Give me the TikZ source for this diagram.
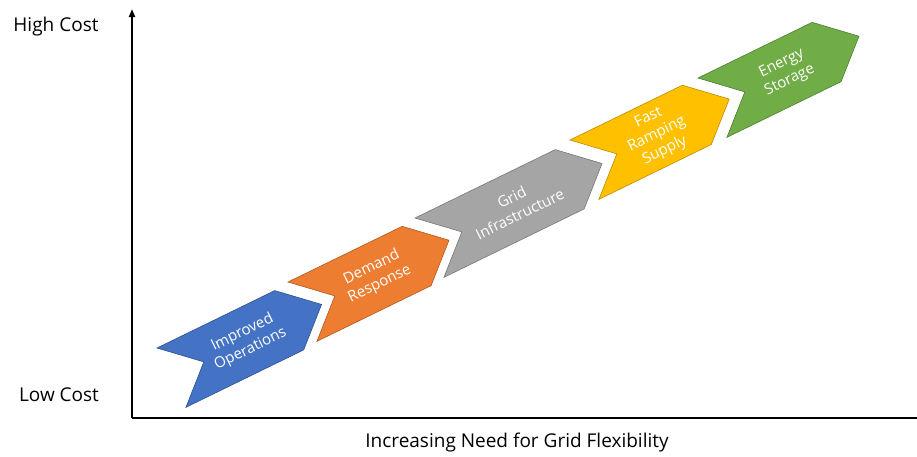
\documentclass[tikz,border=0pt]{standalone}
\usepackage{fontspec}
\setmainfont{Open Sans}
\usetikzlibrary{arrows.meta}

% Office palette: fills and slightly darker outlines
\definecolor{blueFill}{HTML}{4472C4}\definecolor{blueLine}{HTML}{2F528F}
\definecolor{orangeFill}{HTML}{ED7D31}\definecolor{orangeLine}{HTML}{AE5A21}
\definecolor{greyFill}{HTML}{A5A5A5}\definecolor{greyLine}{HTML}{787878}
\definecolor{yellowFill}{HTML}{FFC000}\definecolor{yellowLine}{HTML}{BC8C00}
\definecolor{greenFill}{HTML}{70AD47}\definecolor{greenLine}{HTML}{507E32}

% one tilted chevron: #1,#2 = top-back corner, #3 = length of the top edge,
% #4 fill, #5 outline, #6 node name, #7 label
\newcommand{\stagechevron}[7]{%
  \begin{scope}[shift={(#1,#2)}, rotate=26]
    \draw[chev, fill=#4, draw=#5]
      (0,0) -- (#3,0) -- ({#3+36},33) -- (#3,66) -- (0,66) -- (36,33) -- cycle;
    \node[chevtext] (#6) at ({(#3+36)/2},33) {#7};
  \end{scope}}

\begin{document}
\begin{tikzpicture}[x=1pt, y=-1pt,
  chev/.style={line width=0.6pt, line join=miter},
  chevtext/.style={text=white, font=\fontsize{15}{18.5}\selectfont,
                   align=center, rotate=26, inner sep=0pt},
  axisline/.style={line width=2pt, black},
  axislabel/.style={font=\fontsize{19}{22}\selectfont, text=black, inner sep=0pt}]

  \useasboundingbox (0,0) rectangle (917,456);

  % axes
  \coordinate (origin) at (132,418);
  \coordinate (ytop) at (132,9);
  \coordinate (xend) at (917,418);
  \draw[axisline, -{Triangle[length=8pt, width=6pt]}] (origin) -- (ytop);
  \draw[axisline] (origin) -- (xend);

  % axis labels
  \node[axislabel] (high) at (56,27) {High Cost};
  \node[axislabel] (low) at (59,395) {Low Cost};
  \node[axislabel] (need) at (517,443) {Increasing Need for Grid Flexibility};

  % the five stages
  \stagechevron{157}{348}{131}{blueFill}{blueLine}{ops}{Improved\\Operations}
  \stagechevron{288}{282}{127}{orangeFill}{orangeLine}{dr}{Demand\\Response}
  \stagechevron{415}{218}{156}{greyFill}{greyLine}{grid}{Grid\\Infrastructure}
  \stagechevron{570}{140}{125}{yellowFill}{yellowLine}{ramp}{Fast\\Ramping\\Supply}
  \stagechevron{698}{78}{127}{greenFill}{greenLine}{store}{Energy\\Storage}
\end{tikzpicture}
\end{document}
